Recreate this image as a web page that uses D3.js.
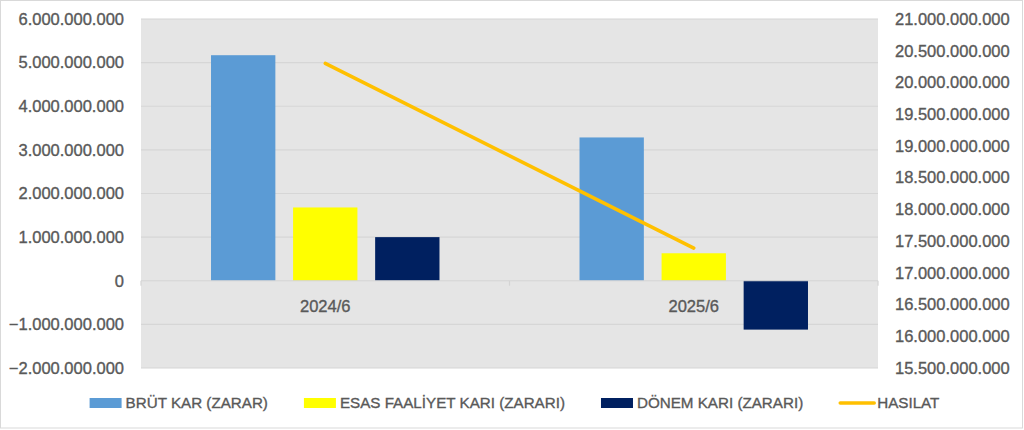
<!DOCTYPE html>
<html>
<head>
<meta charset="utf-8">
<script src="https://cdn.jsdelivr.net/npm/d3@7"></script>
<style>
  body { margin: 0; background: #fff; }
  text { font-family: "Liberation Sans", Arial, sans-serif; fill: #595959; stroke: #595959; stroke-width: 0.35px; }
</style>
</head>
<body>
<svg id="chart"></svg>
<script>
// data
const periods = ['2024/6', '2025/6'];
const barSeries = ['BRÜT KAR (ZARAR)', 'ESAS FAALİYET KARI (ZARARI)', 'DÖNEM KARI (ZARARI)'];
const brutKar = [5170000000, 3285000000];
const esasFaaliyet = [1680000000, 630000000];
const donemKari = [1000000000, -1120000000];
const lineSeries = 'HASILAT';
const hasilat = [20300000000, 17390000000];
const leftTicks = [-2e9, -1e9, 0, 1e9, 2e9, 3e9, 4e9, 5e9, 6e9];
const rightTicks = [15.5e9, 16e9, 16.5e9, 17e9, 17.5e9, 18e9, 18.5e9, 19e9, 19.5e9, 20e9, 20.5e9, 21e9];
const barColors = ['#5b9bd5', '#ffff00', '#002060'];
const lineColor = '#ffc000';

const W = 1024, H = 430;
const plot = {left: 141, right: 878, top: 19, bottom: 368};

const trLocale = d3.formatLocale({decimal: ',', thousands: '.', grouping: [3], currency: ['', '']});
const fmt = trLocale.format(',.0f');

const svg = d3.select('#chart').attr('width', W).attr('height', H);

// chart frame
svg.append('rect')
    .attr('x', 0.5).attr('y', 0.5)
    .attr('width', W - 2).attr('height', H - 2.5)
    .attr('fill', '#fff')
    .attr('stroke', '#d9d9d9');

// plot background
svg.append('rect')
    .attr('x', plot.left).attr('y', plot.top)
    .attr('width', plot.right - plot.left).attr('height', plot.bottom - plot.top)
    .attr('fill', '#e5e5e5');

const yLeft = d3.scaleLinear().domain([-2e9, 6e9]).range([plot.bottom, plot.top]);
const yRight = d3.scaleLinear().domain([15.5e9, 21e9]).range([plot.bottom, plot.top]);
const x = d3.scaleBand().domain(periods).range([plot.left, plot.right]).padding(0);
const bw = x.bandwidth();
const xSub = d3.scaleBand().domain(barSeries)
    .range([bw * 0.19, bw * 0.81])
    .paddingInner(0.216).paddingOuter(0);

// gridlines
svg.append('g')
    .selectAll('line')
    .data(leftTicks.filter(d => d !== 0))
    .join('line')
    .attr('x1', plot.left).attr('x2', plot.right)
    .attr('y1', d => yLeft(d)).attr('y2', d => yLeft(d))
    .attr('stroke', '#d6d6d6').attr('stroke-width', 1.2);

// left axis
const leftAxis = svg.append('g')
    .attr('transform', `translate(${plot.left},0)`)
    .call(d3.axisLeft(yLeft).tickValues(leftTicks).tickFormat(fmt).tickSize(0).tickPadding(17));
leftAxis.select('.domain').remove();
leftAxis.selectAll('text').style('font-size', '16.5px').attr('fill', '#595959')
    .style('font-family', '"Liberation Sans", Arial, sans-serif');

// right axis
const rightAxis = svg.append('g')
    .attr('transform', `translate(${plot.right},0)`)
    .call(d3.axisRight(yRight).tickValues(rightTicks).tickFormat(fmt).tickSize(0).tickPadding(17));
rightAxis.select('.domain').remove();
rightAxis.selectAll('text').style('font-size', '16.5px').attr('fill', '#595959')
    .style('font-family', '"Liberation Sans", Arial, sans-serif');

// bars
const rows = periods.map((p, i) => ({
  period: p,
  values: [brutKar[i], esasFaaliyet[i], donemKari[i]].map((v, j) => ({series: barSeries[j], value: v}))
}));

const groups = svg.append('g').selectAll('.bar-group')
    .data(rows)
    .join('g')
    .attr('class', 'bar-group')
    .attr('transform', d => `translate(${x(d.period)},0)`);

groups.selectAll('rect')
    .data(d => d.values)
    .join('rect')
    .attr('x', d => xSub(d.series))
    .attr('width', xSub.bandwidth())
    .attr('y', d => yLeft(Math.max(0, d.value)))
    .attr('height', d => Math.abs(yLeft(d.value) - yLeft(0)))
    .attr('fill', (d, i) => barColors[i]);

// category axis at zero
const xAxisG = svg.append('g').attr('transform', `translate(0,${yLeft(0)})`);
xAxisG.append('line')
    .attr('x1', plot.left).attr('x2', plot.right)
    .attr('stroke', '#d4d4d4').attr('stroke-width', 1.2);
xAxisG.selectAll('.tick-mark')
    .data([...periods.map(p => x(p)), plot.right])
    .join('line')
    .attr('class', 'tick-mark')
    .attr('x1', d => d).attr('x2', d => d)
    .attr('y1', 0).attr('y2', 5)
    .attr('stroke', '#d4d4d4').attr('stroke-width', 1.2);
xAxisG.selectAll('.cat-label')
    .data(periods)
    .join('text')
    .attr('class', 'cat-label')
    .attr('x', d => x(d) + bw / 2)
    .attr('y', 25)
    .attr('text-anchor', 'middle')
    .attr('dy', '0.35em')
    .style('font-size', '16.5px')
    .text(d => d);

// line series
const line = d3.line()
    .x((d, i) => x(periods[i]) + bw / 2)
    .y(d => yRight(d));

svg.append('path')
    .datum(hasilat)
    .attr('d', line)
    .attr('fill', 'none')
    .attr('stroke', lineColor)
    .attr('stroke-width', 3.5)
    .attr('stroke-linecap', 'round');

// legend
const legendItems = barSeries.map((s, i) => ({name: s, color: barColors[i], type: 'bar'}))
    .concat([{name: lineSeries, color: lineColor, type: 'line'}]);

const legend = svg.append('g');
const items = legend.selectAll('g')
    .data(legendItems)
    .join('g');

items.each(function(d) {
  const g = d3.select(this);
  if (d.type === 'bar') {
    g.append('rect').attr('x', 0).attr('y', -5).attr('width', 32).attr('height', 10).attr('fill', d.color);
  } else {
    g.append('line').attr('x1', 1).attr('x2', 35).attr('y1', 0).attr('y2', 0)
      .attr('stroke', d.color).attr('stroke-width', 3.5).attr('stroke-linecap', 'round');
  }
  g.append('text')
    .attr('x', d.type === 'bar' ? 36 : 38)
    .attr('dy', '0.35em')
    .style('font-size', '15.2px')
    .text(d.name);
});

let cursor = 0;
const gap = 36;
items.each(function(d) {
  const g = d3.select(this);
  const w = (d.type === 'bar' ? 36 : 38) + g.select('text').node().getComputedTextLength();
  d.offset = cursor;
  cursor += w + gap;
});
const totalW = cursor - gap;
const legendLeft = 514.5 - totalW / 2;
items.attr('transform', d => `translate(${legendLeft + d.offset},403)`);
</script>
</body>
</html>
